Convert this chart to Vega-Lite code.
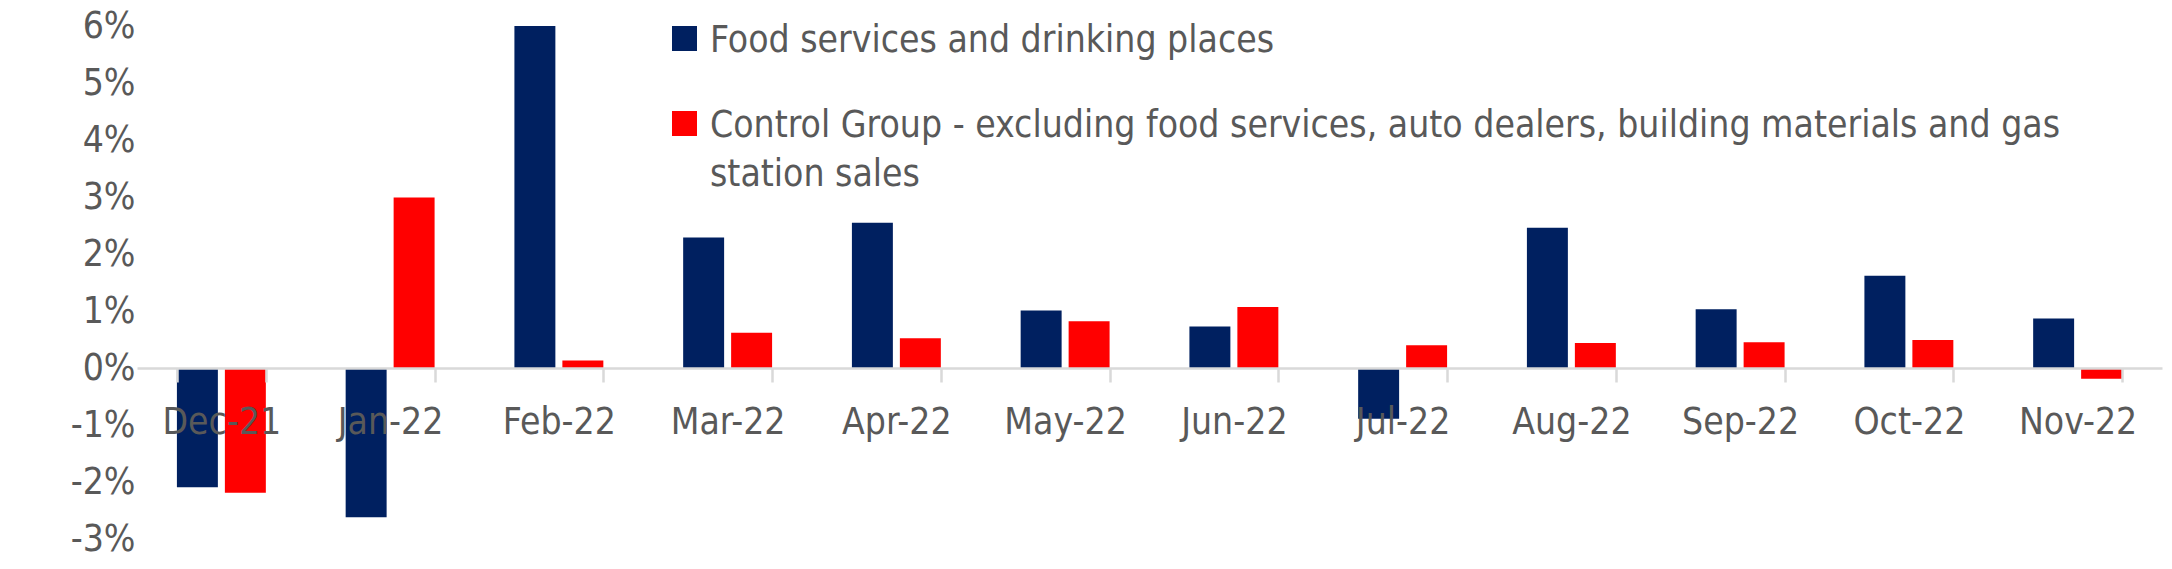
{
  "$schema": "https://vega.github.io/schema/vega-lite/v6.json",
  "autosize": {"type": "none"},
  "padding": {"left": 137, "top": 26, "right": 10, "bottom": 30},
  "width": 2025,
  "height": 513,
  "background": "#ffffff",
  "config": {
    "view": {"stroke": null},
    "font": "Liberation Sans Narrow, DejaVu Sans Condensed, sans-serif",
    "axis": {
      "labelColor": "#595959",
      "labelFontSize": 37,
      "labelFont": "Liberation Sans Narrow, DejaVu Sans Condensed, sans-serif",
      "grid": false,
      "title": null
    },
    "legend": {
      "labelColor": "#595959",
      "labelFontSize": 37,
      "labelFont": "Liberation Sans Narrow, DejaVu Sans Condensed, sans-serif"
    }
  },
  "data": {
    "values": [
      {"month": "Dec-21", "series": "Food services and drinking places", "change": -0.0209},
      {"month": "Dec-21", "series": "Control Group - excluding food services, auto dealers, building materials and gas|station sales", "change": -0.0219},
      {"month": "Jan-22", "series": "Food services and drinking places", "change": -0.0262},
      {"month": "Jan-22", "series": "Control Group - excluding food services, auto dealers, building materials and gas|station sales", "change": 0.0299},
      {"month": "Feb-22", "series": "Food services and drinking places", "change": 0.06},
      {"month": "Feb-22", "series": "Control Group - excluding food services, auto dealers, building materials and gas|station sales", "change": 0.0013},
      {"month": "Mar-22", "series": "Food services and drinking places", "change": 0.0229},
      {"month": "Mar-22", "series": "Control Group - excluding food services, auto dealers, building materials and gas|station sales", "change": 0.0062},
      {"month": "Apr-22", "series": "Food services and drinking places", "change": 0.0255},
      {"month": "Apr-22", "series": "Control Group - excluding food services, auto dealers, building materials and gas|station sales", "change": 0.0052},
      {"month": "May-22", "series": "Food services and drinking places", "change": 0.0101},
      {"month": "May-22", "series": "Control Group - excluding food services, auto dealers, building materials and gas|station sales", "change": 0.0082},
      {"month": "Jun-22", "series": "Food services and drinking places", "change": 0.0073},
      {"month": "Jun-22", "series": "Control Group - excluding food services, auto dealers, building materials and gas|station sales", "change": 0.0107},
      {"month": "Jul-22", "series": "Food services and drinking places", "change": -0.0089},
      {"month": "Jul-22", "series": "Control Group - excluding food services, auto dealers, building materials and gas|station sales", "change": 0.004},
      {"month": "Aug-22", "series": "Food services and drinking places", "change": 0.0246},
      {"month": "Aug-22", "series": "Control Group - excluding food services, auto dealers, building materials and gas|station sales", "change": 0.0044},
      {"month": "Sep-22", "series": "Food services and drinking places", "change": 0.0103},
      {"month": "Sep-22", "series": "Control Group - excluding food services, auto dealers, building materials and gas|station sales", "change": 0.0045},
      {"month": "Oct-22", "series": "Food services and drinking places", "change": 0.0162},
      {"month": "Oct-22", "series": "Control Group - excluding food services, auto dealers, building materials and gas|station sales", "change": 0.0049},
      {"month": "Nov-22", "series": "Food services and drinking places", "change": 0.0087},
      {"month": "Nov-22", "series": "Control Group - excluding food services, auto dealers, building materials and gas|station sales", "change": -0.0019}
    ]
  },
  "mark": {"type": "bar", "cornerRadius": 0},
  "encoding": {
    "x": {
      "field": "month",
      "type": "nominal",
      "sort": null,
      "scale": {"paddingInner": 0.473, "paddingOuter": 0.2365},
      "axis": {
        "labelAngle": 0,
        "offset": -171,
        "zindex": 1,
        "domainColor": "#d9d9d9",
        "domainWidth": 2.5,
        "tickColor": "#d9d9d9",
        "tickWidth": 2.5,
        "tickSize": 14,
        "tickBand": "extent",
        "labelPadding": 22,
        "labelBaseline": "top"
      }
    },
    "xOffset": {
      "field": "series",
      "type": "nominal",
      "sort": null,
      "scale": {"paddingInner": 0.146}
    },
    "y": {
      "field": "change",
      "type": "quantitative",
      "scale": {"domain": [-0.03, 0.06], "nice": false},
      "axis": {
        "format": ".0%",
        "labelExpr": "replace(datum.label, '−', '-')",
        "values": [-0.03, -0.02, -0.01, 0, 0.01, 0.02, 0.03, 0.04, 0.05, 0.06],
        "domain": false,
        "ticks": false,
        "labelPadding": 2
      }
    },
    "color": {
      "field": "series",
      "type": "nominal",
      "sort": null,
      "scale": {"range": ["#002060", "#ff0000"]},
      "legend": {
        "title": null,
        "orient": "none",
        "legendX": 529,
        "legendY": -22,
        "direction": "vertical",
        "symbolType": "M-1,0.28H1V2.28H-1Z",
        "symbolSize": 625,
        "symbolStrokeWidth": 0,
        "labelBaseline": "top",
        "labelOffset": 7,
        "labelLimit": 2000,
        "labelExpr": "split(datum.label, '|')",
        "rowPadding": 30,
        "encoding": {"labels": {"lineHeight": {"value": 49}}}
      }
    }
  }
}
